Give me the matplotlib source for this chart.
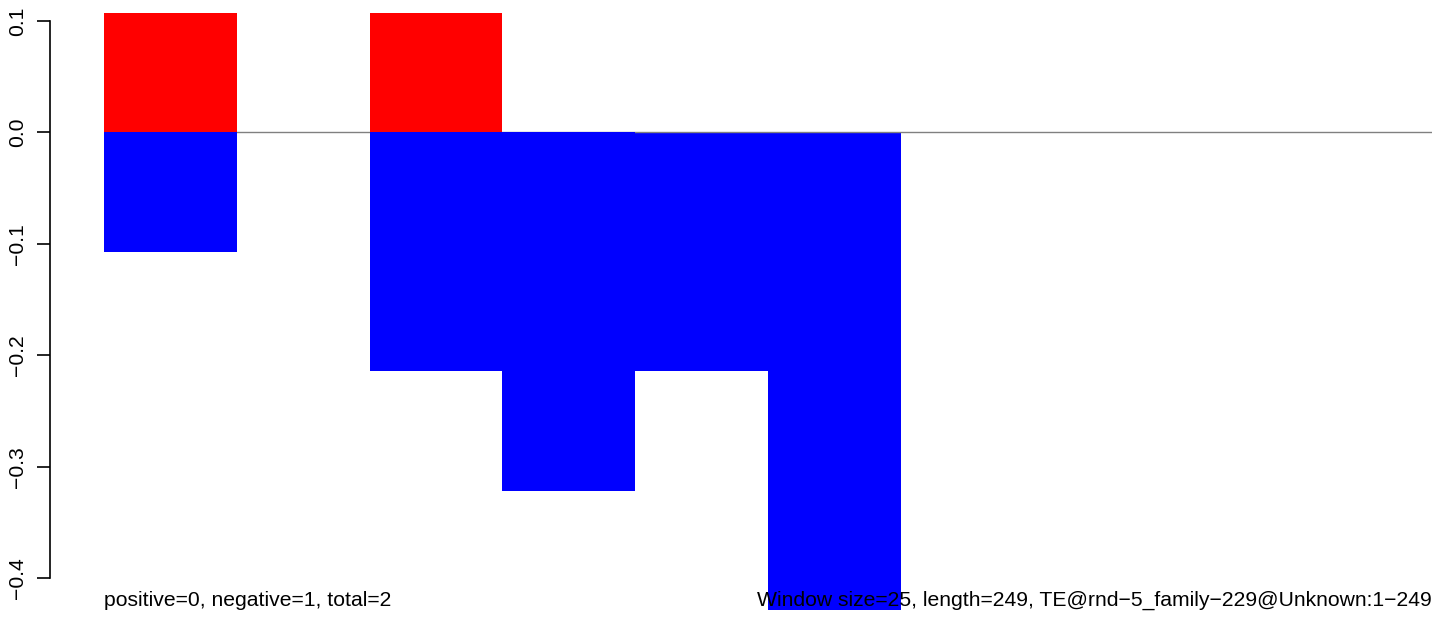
import matplotlib
matplotlib.use("Agg")
import matplotlib.pyplot as plt
import numpy as np

plt.rcParams['font.family'] = ['Liberation Sans', 'DejaVu Sans']

window_starts = [0, 1, 2, 3, 4, 5, 6, 7, 8, 9]
positive = [0.1071, 0, 0.1071, 0, 0, 0, 0, 0, 0, 0]
negative = [-0.1071, 0, -0.2143, -0.3214, -0.2143, -0.4286, 0, 0, 0, 0]
yticks = [-0.4, -0.3, -0.2, -0.1, 0.0, 0.1]
left_text = "positive=0, negative=1, total=2"
right_text = "Window size=25, length=249, TE@rnd\u22125_family\u2212229@Unknown:1\u2212249"

W, H = 1444, 617
fig = plt.figure(figsize=(W / 100, H / 100), dpi=100)
ax = fig.add_axes([104 / W, 1 - 610 / H, (1432 - 104) / W, (610 - 13) / H])

front = [i < 4 for i in range(len(window_starts))]
for i, x in enumerate(window_starts):
    z = 3 if front[i] else 1
    if positive[i] != 0:
        ax.bar(x, positive[i], width=1, align='edge', color='red', linewidth=0, zorder=z)
    if negative[i] != 0:
        ax.bar(x, negative[i], width=1, align='edge', color='blue', linewidth=0, zorder=z)

ax.axhline(0, color='#808080', linewidth=1, zorder=2)

ax.set_xlim(0, 10)
ax.set_ylim(-0.4286, 0.1071)

for s in ['top', 'right', 'bottom']:
    ax.spines[s].set_visible(False)
ax.spines['left'].set_position(('outward', 54 * 0.72))
ax.spines['left'].set_bounds(-0.4, 0.1)
ax.spines['left'].set_linewidth(1.2)
ax.set_xticks([])
ax.set_yticks(yticks)
ax.set_yticklabels(["\u22120.4", "\u22120.3", "\u22120.2", "\u22120.1", "0.0", "0.1"],
                   rotation=90, va='center', fontsize=15.2)
ax.tick_params(axis='y', length=9.4, width=1.2, pad=7)

fig.text(104 / W, 1 - 606 / H, left_text, ha='left', va='baseline', fontsize=15.2, zorder=10)
fig.text(1432 / W, 1 - 606 / H, right_text, ha='right', va='baseline', fontsize=15.2, zorder=10)

fig.savefig("out.png", dpi=100)
